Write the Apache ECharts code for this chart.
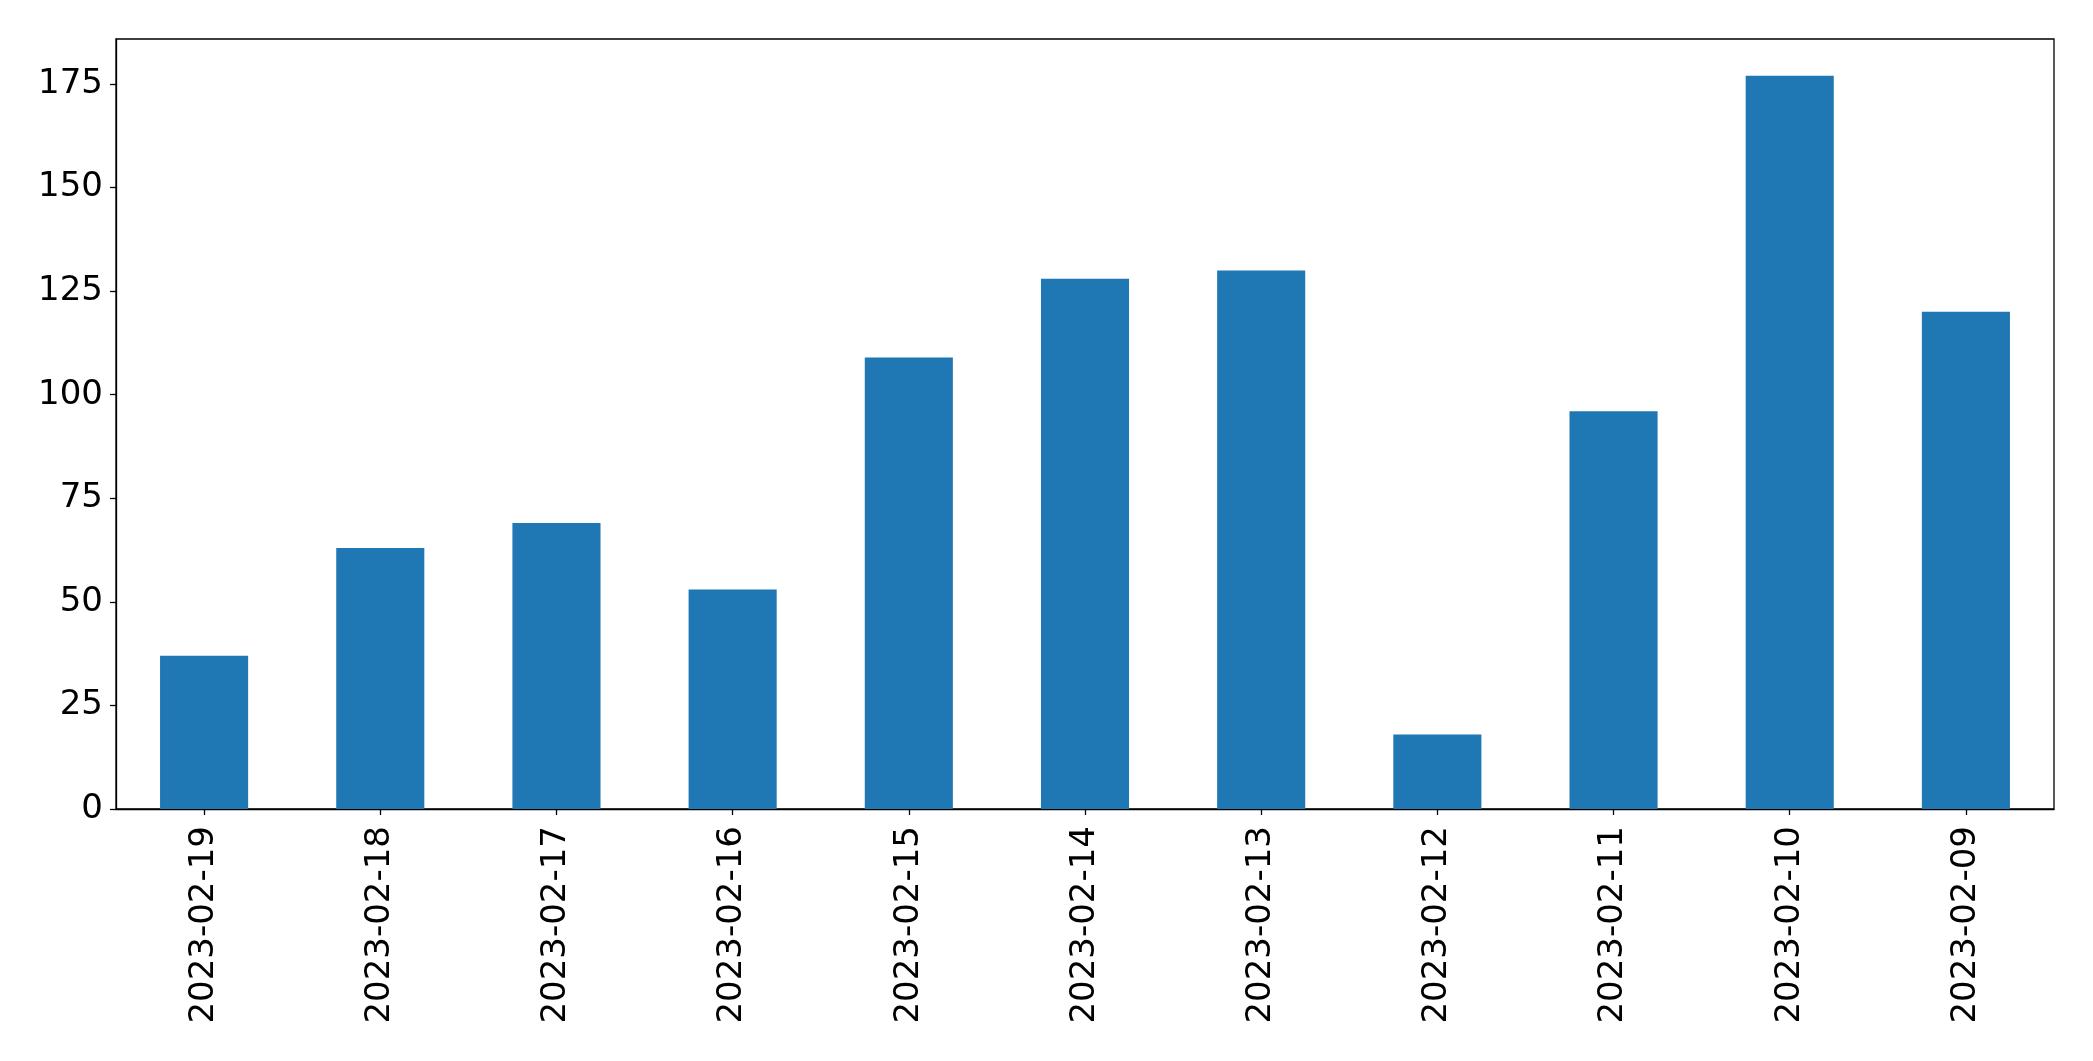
<!DOCTYPE html>
<html>
<head>
<meta charset="utf-8">
<script src="https://cdn.jsdelivr.net/npm/echarts@6/dist/echarts.min.js"></script>
<style>html,body{margin:0;padding:0;background:#fff;}#c{width:2093px;height:1061px;}</style>
</head>
<body>
<div id="c"></div>
<script>
const categories = ['2023-02-19','2023-02-18','2023-02-17','2023-02-16','2023-02-15','2023-02-14','2023-02-13','2023-02-12','2023-02-11','2023-02-10','2023-02-09'];
const values = [37, 63, 69, 53, 109, 128, 130, 18, 96, 177, 120];
const yTicks = [0, 25, 50, 75, 100, 125, 150, 175];

const chart = echarts.init(document.getElementById('c'), null, {renderer: 'canvas'});
const font = 'DejaVu Sans';
chart.setOption({
  animation: false,
  backgroundColor: '#fff',
  grid: {left: 116, right: 39, top: 39, bottom: 252, show: true, borderColor: '#000', borderWidth: 1.3, containLabel: false},
  xAxis: {
    type: 'category',
    data: categories,
    boundaryGap: true,
    axisLine: {show: true, lineStyle: {color: '#000', width: 1.3}},
    axisTick: {show: true, alignWithLabel: true, length: 6, lineStyle: {color: '#000', width: 1.3}},
    axisLabel: {rotate: 90, margin: 17, color: '#000', fontFamily: font, fontSize: 34, interval: 0},
    splitLine: {show: false}
  },
  yAxis: {
    type: 'value',
    min: 0,
    max: 185.85,
    interval: 25,
    axisLine: {show: true, lineStyle: {color: '#000', width: 1.3}},
    axisTick: {show: true, length: 6, lineStyle: {color: '#000', width: 1.3}, customValues: yTicks},
    axisLabel: {margin: 13, color: '#000', fontFamily: font, fontSize: 34, customValues: yTicks, padding: [5, 0, 0, 0]},
    splitLine: {show: false}
  },
  series: [{
    type: 'bar',
    data: values,
    barWidth: '50%',
    itemStyle: {color: '#1f77b4'}
  }]
});
</script>
</body>
</html>
